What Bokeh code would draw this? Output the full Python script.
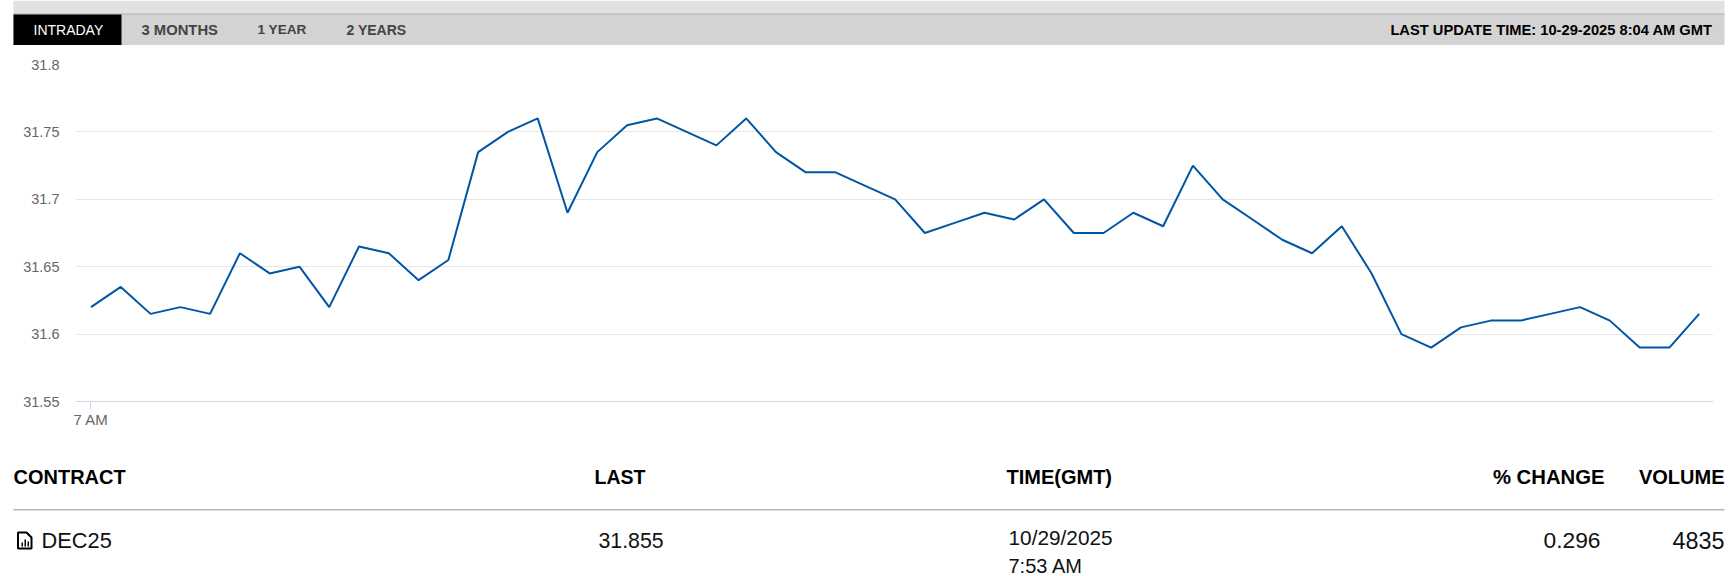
from bokeh.plotting import figure
from bokeh.layouts import column
from bokeh.models import Range1d, FixedTicker
from bokeh.core.properties import value
from bokeh.embed import file_html
from bokeh.resources import INLINE

FONT = "Liberation Sans"
minutes = list(range(55))
prices = [31.62, 31.635, 31.615, 31.62, 31.615, 31.66, 31.645, 31.65, 31.62, 31.665,
          31.66, 31.64, 31.655, 31.735, 31.75, 31.76, 31.69, 31.735, 31.755, 31.76,
          31.75, 31.74, 31.76, 31.735, 31.72, 31.72, 31.71, 31.70, 31.675, 31.6825,
          31.69, 31.685, 31.70, 31.675, 31.675, 31.69, 31.68, 31.725, 31.70, 31.685,
          31.67, 31.66, 31.68, 31.645, 31.60, 31.59, 31.605, 31.61, 31.61, 31.615,
          31.62, 31.61, 31.59, 31.59, 31.615]
y_ticks = [31.55, 31.6, 31.65, 31.7, 31.75, 31.8]
y_labels = ["31.55", "31.6", "31.65", "31.7", "31.75", "31.8"]
tabs = ["INTRADAY", "3 MONTHS", "1 YEAR", "2 YEARS"]
update_text = "LAST UPDATE TIME: 10-29-2025 8:04 AM GMT"
table_headers = ["CONTRACT", "LAST", "TIME(GMT)", "% CHANGE", "VOLUME"]
row = ["DEC25", "31.855", "10/29/2025", "7:53 AM", "0.296", "4835"]


def canvas(h, y0, y1):
    f = figure(width=1731, height=h, x_range=Range1d(0, 1731), y_range=Range1d(y1, y0),
               output_backend="svg", toolbar_location=None, min_border=0,
               x_axis_type=None, y_axis_type=None, frame_align=False)
    f.grid.visible = False
    f.outline_line_color = None
    return f


def put(f, x, y, txt, size, color, style="normal", align="left"):
    f.text([x], [y], text=[txt], text_font=value(FONT), text_font_size=size,
           text_color=color, text_font_style=style, text_align=align, text_baseline="middle")


# header strip
head = canvas(45, 0, 45)
head.quad(left=[13], right=[1724], top=[0], bottom=[13], fill_color="#e1e1e1", line_color=None)
head.quad(left=[13], right=[1724], top=[13], bottom=[45], fill_color="#d3d3d3", line_color=None)
head.quad(left=[13], right=[1724], top=[13], bottom=[14], fill_color="#b2b2b2", line_color=None)
head.quad(left=[13], right=[121], top=[14], bottom=[45], fill_color="#000000", line_color=None)
put(head, 33, 29, tabs[0], "14px", "#ffffff")
put(head, 141, 29, tabs[1], "14.8px", "#444444", "bold")
put(head, 257, 29, tabs[2], "13.6px", "#444444", "bold")
put(head, 346, 29, tabs[3], "14px", "#444444", "bold")
put(head, 1712, 29, update_text, "14.7px", "#000000", "bold", "right")

# chart
p = figure(width=1731, height=385, x_range=Range1d(-0.52, 54.48), y_range=Range1d(31.55, 31.8),
           output_backend="svg", toolbar_location=None, min_border_left=75, min_border_right=18,
           min_border_top=19, min_border_bottom=28, frame_align=False)
p.outline_line_color = None
p.line(minutes, prices, line_color="#0055a5", line_width=2)
p.yaxis.ticker = FixedTicker(ticks=y_ticks)
p.yaxis.major_label_overrides = dict(zip(y_ticks, y_labels))
p.yaxis.axis_line_color = None
p.yaxis.major_tick_line_color = None
p.yaxis.minor_tick_line_color = None
p.yaxis.major_label_standoff = 10
p.yaxis.major_label_text_font = FONT
p.yaxis.major_label_text_font_size = "14.5px"
p.yaxis.major_label_text_color = "#666666"
p.xaxis.ticker = FixedTicker(ticks=[0])
p.xaxis.major_label_overrides = {0: "7 AM"}
p.xaxis.axis_line_color = "#ccd6eb"
p.xaxis.major_tick_line_color = "#ccd6eb"
p.xaxis.major_tick_in = 0
p.xaxis.major_tick_out = 8
p.xaxis.minor_tick_line_color = None
p.xaxis.major_label_standoff = 1
p.xaxis.major_label_text_font = FONT
p.xaxis.major_label_text_font_size = "15px"
p.xaxis.major_label_text_color = "#666666"
p.xgrid.visible = False
p.ygrid.ticker = FixedTicker(ticks=y_ticks[1:])
p.ygrid.grid_line_color = "#e6e6e6"

# table
t = canvas(146, 430, 576)
put(t, 13, 476.5, table_headers[0], "20px", "#000000", "bold")
put(t, 594, 476.5, table_headers[1], "19.5px", "#000000", "bold")
put(t, 1006, 476.5, table_headers[2], "20px", "#000000", "bold")
put(t, 1604, 476.5, table_headers[3], "20.3px", "#000000", "bold", "right")
put(t, 1724, 476.5, table_headers[4], "20px", "#000000", "bold", "right")
t.quad(left=[13], right=[1724], top=[508.5], bottom=[510], fill_color="#b5b5b5", line_color=None)
put(t, 41, 540, row[0], "21.8px", "#111111")
put(t, 598, 540, row[1], "21.3px", "#111111")
put(t, 1008, 537, row[2], "20.8px", "#111111")
put(t, 1008, 565, row[3], "20px", "#111111")
put(t, 1600, 540, row[4], "22.8px", "#111111", align="right")
put(t, 1724, 540, row[5], "23.4px", "#111111", align="right")
# document icon
t.patch([17.5, 26, 31, 31, 17.5], [532, 532, 537, 548, 548], fill_color="#ffffff", line_color="#000000", line_width=2)
t.quad(left=[21, 24, 27], right=[22.5, 25.5, 28.5], top=[542, 539, 541], bottom=[546, 546, 546],
       fill_color="#000000", line_color=None)

page = column(head, p, t, spacing=0)
open("out.html", "w").write(file_html(page, INLINE))
